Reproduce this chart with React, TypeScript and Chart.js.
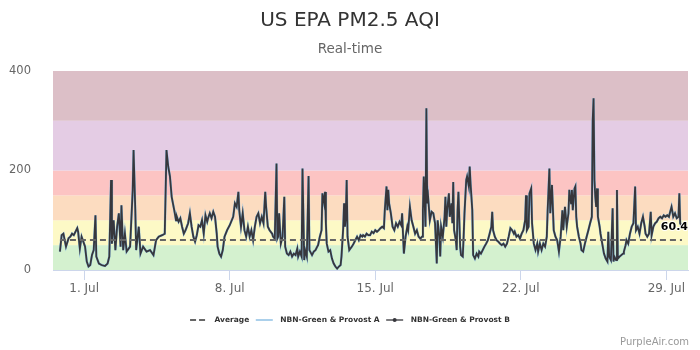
import React, { useEffect, useRef } from "react";
import { Chart, registerables } from "chart.js";

Chart.register(...registerables);

const FONT = '"DejaVu Sans", Verdana, sans-serif';

const titleText = "US EPA PM2.5 AQI";
const subtitleText = "Real-time";
const creditText = "PurpleAir.com";
const seriesNames = ["Average", "NBN-Green & Provost A", "NBN-Green & Provost B"];
const averageAQI = 60.4;
const averageLabel = "60.4";

// x axis: hours since 1 Jul 00:00
const xMinHour = -36;
const xMaxHour = 697;
const tickHours = [0, 168, 336, 504, 672];
const tickLabels = ["1. Jul", "8. Jul", "15. Jul", "22. Jul", "29. Jul"];
const yTicks = [0, 200, 400];

const bandLimits = [0, 50, 100, 150, 200, 300, 400];
const bandColors = ["#d4f1cf", "#fdf9c6", "#fcdcc0", "#fcc4c3", "#e4cce4", "#dcbfc7"];

// [hour since 1 Jul 00:00, AQI]
const sensorReadings: [number, number][] = [
  [-28,37],[-26,70],[-24,73],[-21,47],[-18,64],[-16,67],[-14,73],[-12,70],[-8,84],[-7,77],[-5,43],[-3,67],[-1,57],
  [1,47],[3,17],[5,7],[7,10],[9,30],[11,40],[13,110],[14,27],[17,13],[20,10],[24,8],[27,13],[29,27],[31,181],[32,53],
  [34,100],[36,40],[38,87],[40,114],[42,47],[43,130],[45,40],[47,73],[49,37],[53,47],[56,160],[57,241],[59,120],[60,40],
  [63,87],[65,33],[68,47],[72,37],[76,40],[80,30],[83,60],[86,67],[90,70],[93,73],[95,241],[97,208],[99,188],[101,147],
  [104,120],[106,100],[107,107],[109,97],[111,104],[113,87],[115,73],[117,80],[120,94],[122,114],[124,87],[126,67],
  [128,57],[130,70],[132,90],[134,87],[136,100],[138,73],[140,110],[142,97],[143,104],[145,114],[147,104],[149,117],
  [151,107],[153,73],[154,47],[156,33],[158,27],[160,40],[162,67],[165,80],[168,90],[172,107],[174,134],[176,127],
  [178,157],[179,120],[181,87],[183,114],[185,80],[187,67],[189,87],[191,67],[193,80],[195,60],[197,87],[199,107],
  [201,114],[203,94],[205,107],[207,94],[209,157],[210,127],[212,87],[214,80],[217,73],[218,67],[220,63],[222,214],
  [223,63],[224,67],[225,114],[227,53],[229,67],[231,147],[232,47],[234,33],[236,30],[238,37],[240,27],[242,33],
  [244,30],[246,43],[247,27],[249,37],[251,27],[252,204],[254,20],[255,40],[257,27],[259,189],[260,40],[263,30],
  [265,37],[267,40],[269,47],[270,50],[272,67],[274,80],[275,154],[277,134],[278,157],[279,94],[280,53],[282,37],
  [284,40],[286,23],[288,13],[290,7],[292,3],[294,7],[296,10],[297,27],[299,84],[300,134],[301,87],[302,107],[303,181],
  [304,67],[306,40],[309,47],[311,53],[313,60],[315,67],[317,60],[319,70],[321,67],[322,70],[324,67],[326,73],[328,70],
  [330,70],[332,77],[334,74],[336,80],[338,77],[340,80],[342,84],[344,87],[346,84],[347,120],[349,168],[350,120],
  [351,161],[352,134],[354,114],[356,87],[358,80],[360,94],[362,87],[364,97],[366,90],[367,114],[369,33],[371,67],
  [373,87],[374,80],[376,127],[378,100],[380,87],[382,73],[384,80],[386,67],[388,63],[390,67],[391,120],[392,188],
  [394,87],[395,325],[396,134],[397,147],[399,100],[401,117],[403,114],[405,94],[407,13],[408,100],[410,67],[411,27],
  [412,87],[414,67],[416,107],[417,147],[418,87],[419,120],[421,154],[422,107],[424,134],[425,94],[426,177],[427,80],
  [429,60],[430,40],[431,120],[432,157],[434,47],[435,30],[437,27],[438,67],[439,114],[441,181],[442,188],[444,168],
  [445,208],[446,174],[448,120],[449,30],[451,23],[453,33],[455,27],[456,37],[458,33],[460,40],[462,47],[464,53],
  [466,60],[468,73],[470,87],[471,117],[472,80],[474,67],[476,60],[478,57],[480,53],[482,50],[484,53],[486,47],
  [488,53],[490,67],[492,84],[494,80],[496,73],[497,77],[499,67],[501,70],[503,63],[505,73],[507,80],[509,100],
  [510,150],[511,80],[513,87],[514,154],[516,164],[517,94],[519,53],[521,40],[523,53],[524,37],[526,53],[528,40],
  [530,53],[532,47],[534,67],[535,120],[537,204],[538,114],[540,171],[542,80],[544,67],[546,60],[548,37],[550,67],
  [552,120],[553,80],[555,127],[556,107],[557,87],[559,114],[560,161],[562,134],[563,161],[564,120],[566,164],
  [567,168],[568,107],[569,87],[571,67],[573,53],[574,40],[576,37],[578,53],[580,67],[582,80],[584,94],[586,107],
  [587,301],[588,345],[589,181],[590,147],[591,127],[592,164],[593,107],[595,87],[596,73],[598,53],[600,33],[602,23],
  [604,17],[605,77],[606,27],[608,20],[610,124],[611,17],[612,27],[614,20],[615,161],[616,23],[618,27],[620,30],
  [622,33],[623,37],[625,50],[626,60],[628,53],[630,73],[632,87],[634,94],[636,168],[637,80],[639,87],[641,73],
  [643,94],[645,107],[647,87],[648,73],[650,67],[652,73],[654,117],[655,70],[657,87],[659,94],[661,97],[663,104],
  [665,107],[667,104],[669,110],[671,107],[673,110],[675,107],[676,114],[678,127],[680,107],[682,114],[684,104],
  [686,107],[687,154],[688,94],[690,87],
];

const colorAverage = "#666666";
const colorA = "#8fc0e4";
const colorB = "#37373c";

export default function App() {
  const ref = useRef<HTMLCanvasElement | null>(null);

  useEffect(() => {
    const canvas = ref.current;
    if (!canvas) return;

    const points = sensorReadings.map(([h, v]) => ({ x: h, y: v }));
    const firstHour = sensorReadings[0][0];
    const lastHour = sensorReadings[sensorReadings.length - 1][0];
    const avgPoints = [
      { x: firstHour, y: averageAQI },
      { x: lastHour, y: averageAQI },
    ];

    const bandsPlugin = {
      id: "bands",
      beforeDatasetsDraw(chart: any) {
        const { ctx, chartArea } = chart;
        const ys = chart.scales.y;
        ctx.save();
        for (let i = 0; i < bandColors.length; i++) {
          const top = ys.getPixelForValue(bandLimits[i + 1]);
          const bot = ys.getPixelForValue(bandLimits[i]);
          ctx.fillStyle = bandColors[i];
          ctx.fillRect(chartArea.left, top, chartArea.right - chartArea.left, bot - top);
        }
        ctx.restore();
      },
    };

    const decorPlugin = {
      id: "decor",
      afterDraw(chart: any) {
        const { ctx, chartArea } = chart;
        const W = chart.width;
        ctx.save();
        ctx.textBaseline = "middle";
        ctx.textAlign = "center";
        // title
        ctx.fillStyle = "#333333";
        ctx.font = `20px ${FONT}`;
        ctx.fillText(titleText, W / 2, 21);
        ctx.fillStyle = "#666666";
        ctx.font = `13.5px ${FONT}`;
        ctx.fillText(subtitleText, W / 2, 49);

        // legend
        ctx.font = `bold 7.5px ${FONT}`;
        const symW = 17;
        const symGap = 7.5;
        const itemGap = 6.5;
        const widths = seriesNames.map((n) => ctx.measureText(n).width);
        const total =
          widths.reduce((a, b) => a + b, 0) + seriesNames.length * (symW + symGap) + itemGap * (seriesNames.length - 1);
        let x = W / 2 - total / 2;
        const ly = 320;
        seriesNames.forEach((name, i) => {
          ctx.save();
          if (i === 0) {
            ctx.strokeStyle = colorAverage;
            ctx.lineWidth = 2;
            ctx.setLineDash([6, 3]);
          } else if (i === 1) {
            ctx.strokeStyle = colorA;
            ctx.lineWidth = 1.5;
          } else {
            ctx.strokeStyle = colorB;
            ctx.lineWidth = 1.3;
          }
          ctx.beginPath();
          ctx.moveTo(x, ly);
          ctx.lineTo(x + symW, ly);
          ctx.stroke();
          if (i === 2) {
            ctx.fillStyle = colorB;
            ctx.beginPath();
            ctx.arc(x + symW / 2, ly, 2, 0, Math.PI * 2);
            ctx.fill();
          }
          ctx.restore();
          x += symW + symGap;
          ctx.fillStyle = "#333333";
          ctx.textAlign = "left";
          ctx.fillText(name, x, ly);
          x += widths[i] + itemGap;
        });

        // credits
        ctx.textAlign = "right";
        ctx.fillStyle = "#999999";
        ctx.font = `10px ${FONT}`;
        ctx.fillText(creditText, 689, 342);

        // average data label
        const xs = chart.scales.x;
        const ys = chart.scales.y;
        ctx.font = `bold 11px ${FONT}`;
        const lw = ctx.measureText(averageLabel).width;
        const px = Math.min(xs.getPixelForValue(lastHour), chartArea.right - lw / 2);
        const py = ys.getPixelForValue(averageAQI) - 13;
        ctx.textAlign = "center";
        ctx.lineJoin = "round";
        ctx.strokeStyle = "rgba(255,255,255,0.9)";
        ctx.lineWidth = 2;
        ctx.strokeText(averageLabel, px, py);
        ctx.fillStyle = "#000000";
        ctx.fillText(averageLabel, px, py);
        ctx.restore();
      },
    };

    const chart = new Chart(canvas, {
      type: "line",
      data: {
        datasets: [
          {
            label: seriesNames[0],
            data: avgPoints,
            borderColor: colorAverage,
            borderWidth: 2,
            borderDash: [6, 4],
            pointRadius: 0,
            order: 0,
          },
          {
            label: seriesNames[1],
            data: points,
            borderColor: colorA,
            borderWidth: 2.4,
            pointRadius: 0,
            order: 2,
          },
          {
            label: seriesNames[2],
            data: points,
            borderColor: colorB,
            borderWidth: 1.8,
            pointRadius: 0,
            order: 1,
          },
        ],
      },
      options: {
        responsive: false,
        animation: false,
        events: [],
        layout: { padding: { top: 71, right: 12, bottom: 50, left: 0 } },
        plugins: {
          legend: { display: false },
          title: { display: false },
          tooltip: { enabled: false },
        },
        scales: {
          x: {
            type: "linear",
            min: xMinHour,
            max: xMaxHour,
            afterBuildTicks: (s: any) => {
              s.ticks = tickHours.map((v) => ({ value: v }));
            },
            afterFit: (s: any) => {
              s.height = 30;
            },
            ticks: {
              autoSkip: false,
              maxRotation: 0,
              padding: 2,
              color: "#666666",
              font: { family: FONT, size: 12 },
              callback: (v: any) => {
                const i = tickHours.indexOf(Number(v));
                return i >= 0 ? tickLabels[i] : "";
              },
            },
            grid: {
              display: true,
              drawOnChartArea: false,
              drawTicks: true,
              tickLength: 10,
              color: "#ccd6eb",
            },
            border: { display: true, color: "#ccd6eb" },
          },
          y: {
            min: 0,
            max: 400,
            afterBuildTicks: (s: any) => {
              s.ticks = yTicks.map((v) => ({ value: v }));
            },
            afterFit: (s: any) => {
              s.width = 53;
            },
            ticks: {
              padding: 14,
              color: "#666666",
              font: { family: FONT, size: 11.5 },
            },
            grid: { display: false },
            border: { display: false },
          },
        },
      },
      plugins: [bandsPlugin, decorPlugin],
    } as any);

    return () => chart.destroy();
  }, []);

  return (
    <div style={{ position: "absolute", left: 0, top: 0, width: 700, height: 350 }}>
      <canvas ref={ref} width={700} height={350} />
    </div>
  );
}
